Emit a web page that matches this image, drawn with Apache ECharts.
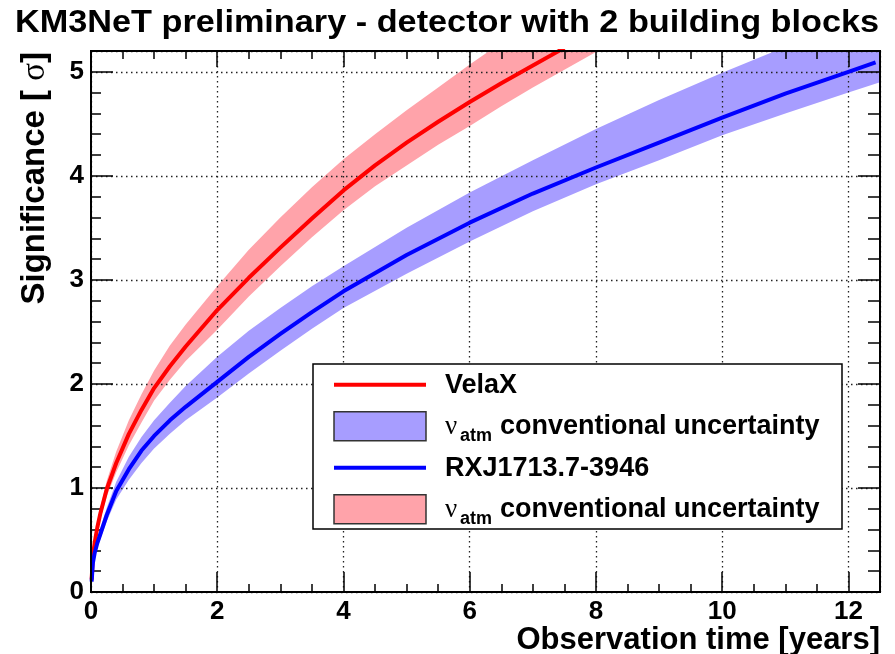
<!DOCTYPE html>
<html>
<head>
<meta charset="utf-8">
<script src="https://cdn.jsdelivr.net/npm/echarts@6/dist/echarts.min.js"></script>
<style>
  html, body { margin: 0; padding: 0; background: #fff; }
  #chart { width: 895px; height: 654px; }
</style>
</head>
<body>
<div id="chart"></div>
<script>
// Observation time (years) and expected significance (sigma) for the two sources.
const velaTime  = [0.01, 0.03, 0.06, 0.1, 0.15, 0.25, 0.4, 0.6, 0.8, 1, 1.25, 1.5, 2, 2.5, 3, 3.5, 4, 4.5, 5, 5.5, 6, 6.5, 7, 7.5];
const velaSigma = [0.12, 0.34, 0.48, 0.62, 0.76, 0.99, 1.24, 1.52, 1.75, 1.96, 2.17, 2.36, 2.71, 3.02, 3.31, 3.59, 3.86, 4.10, 4.32, 4.52, 4.71, 4.89, 5.06, 5.23];

// Atmospheric-neutrino uncertainty band around VelaX.
const velaBandTime = [0.01, 0.03, 0.06, 0.1, 0.15, 0.25, 0.4, 0.6, 0.8, 1, 1.25, 1.5, 2, 2.5, 3, 3.5, 4, 4.5, 5, 5.5, 6, 6.5, 7, 7.5, 8, 8.5];
const velaBandLow  = [0.11, 0.32, 0.45, 0.57, 0.70, 0.92, 1.15, 1.41, 1.63, 1.84, 2.04, 2.22, 2.52, 2.84, 3.13, 3.41, 3.67, 3.90, 4.10, 4.30, 4.48, 4.67, 4.85, 5.02, 5.19, 5.35];
const velaBandHigh = [0.13, 0.38, 0.53, 0.67, 0.82, 1.07, 1.35, 1.65, 1.90, 2.13, 2.37, 2.57, 2.94, 3.29, 3.60, 3.89, 4.16, 4.40, 4.63, 4.85, 5.07, 5.28, 5.48, 5.68, 5.87, 6.05];

const rxjTime  = [0.01, 0.03, 0.06, 0.1, 0.15, 0.25, 0.4, 0.6, 0.8, 1, 1.25, 1.5, 2, 2.5, 3, 3.5, 4, 5, 6, 7, 8, 9, 10, 11, 12, 12.43];
const rxjSigma = [0.10, 0.28, 0.38, 0.47, 0.56, 0.74, 0.97, 1.18, 1.36, 1.50, 1.65, 1.78, 2.02, 2.26, 2.48, 2.69, 2.89, 3.24, 3.55, 3.83, 4.08, 4.32, 4.56, 4.79, 5.00, 5.09];

// Atmospheric-neutrino uncertainty band around RXJ1713.7-3946.
const rxjBandTime = [0.01, 0.03, 0.06, 0.1, 0.15, 0.25, 0.4, 0.6, 0.8, 1, 1.25, 1.5, 2, 2.5, 3, 3.5, 4, 5, 6, 7, 8, 9, 10, 11, 12, 12.5];
const rxjBandLow  = [0.09, 0.26, 0.35, 0.43, 0.51, 0.68, 0.89, 1.08, 1.24, 1.38, 1.52, 1.65, 1.87, 2.10, 2.32, 2.53, 2.73, 3.06, 3.37, 3.66, 3.92, 4.15, 4.39, 4.60, 4.80, 4.90];
const rxjBandHigh = [0.11, 0.31, 0.42, 0.52, 0.62, 0.81, 1.06, 1.30, 1.49, 1.65, 1.82, 1.98, 2.26, 2.51, 2.73, 2.94, 3.13, 3.50, 3.84, 4.15, 4.45, 4.73, 4.99, 5.24, 5.47, 5.58];

// Tick labels.
const xTickLabels = [0, 2, 4, 6, 8, 10, 12];
const yTickLabels = [0, 1, 2, 3, 4, 5];

const FONT = 'Liberation Sans, Arial, Helvetica, sans-serif';
const SERIF = 'Liberation Serif, DejaVu Serif, serif';
const RED = '#ff0000', BLUE = '#0000ff';
const RED_BAND = '#ffa3aa', BLUE_BAND = '#a79dff';

const X_MIN = 0, X_MAX = 12.5, Y_MIN = 0, Y_MAX = 5.2;

const tickStyle = { color: '#000', width: 1.5 };
const gridLine = { show: true, lineStyle: { color: '#222', width: 1.3, type: [1.5, 3.5] } };

function xAxisDef(position, interval, tickLen, withLabels) {
  return {
    type: 'value', position, min: X_MIN, max: X_MAX, interval, z: 3,
    axisLine: { show: false, onZero: false },
    axisTick: { show: true, inside: true, length: tickLen, lineStyle: tickStyle },
    axisLabel: withLabels ? {
      show: true, margin: 7, color: '#000', fontSize: 26, fontWeight: 'bold', fontFamily: FONT,
      formatter: v => (xTickLabels.includes(v) ? String(v) : '')
    } : { show: false },
    splitLine: withLabels ? gridLine : { show: false }
  };
}

function yAxisDef(position, interval, tickLen, withLabels) {
  return {
    type: 'value', position, min: Y_MIN, max: Y_MAX, interval, z: 3,
    axisLine: { show: false, onZero: false },
    axisTick: { show: true, inside: true, length: tickLen, lineStyle: tickStyle },
    axisLabel: withLabels ? {
      show: true, margin: 7, color: '#000', fontSize: 26, fontWeight: 'bold', fontFamily: FONT,
      formatter: v => (yTickLabels.includes(v) ? String(v) : '')
    } : { show: false },
    splitLine: withLabels ? gridLine : { show: false }
  };
}

function bandSeries(name, t, lo, hi, color) {
  return {
    type: 'custom', name, xAxisIndex: 0, yAxisIndex: 0, z: 1, silent: true,
    data: [[t[0], lo[0]]],
    renderItem(params, api) {
      const pts = [];
      for (let i = 0; i < t.length; i++) pts.push(api.coord([t[i], hi[i]]));
      for (let i = t.length - 1; i >= 0; i--) pts.push(api.coord([t[i], lo[i]]));
      const cs = params.coordSys;
      return {
        type: 'polygon',
        shape: { points: pts },
        style: { fill: color },
        clipPath: { type: 'rect', shape: { x: cs.x, y: cs.y, width: cs.width, height: cs.height } }
      };
    }
  };
}

function lineSeries(name, t, s, color, z) {
  return {
    type: 'line', name, xAxisIndex: 0, yAxisIndex: 0, z,
    data: t.map((v, i) => [v, s[i]]),
    showSymbol: false, smooth: false, clip: true, silent: true,
    lineStyle: { color, width: 4, join: 'round' }
  };
}

// Legend rows: line, band, line, band.
const LEG = { x: 313, y: 364, w: 529, h: 165, sx: 334, sw: 92, tx: 445, rows: [384.7, 426.2, 467.7, 509.2] };
const legendItems = [
  { kind: 'line', color: RED, label: 'VelaX' },
  { kind: 'band', color: BLUE_BAND, label: null },
  { kind: 'line', color: BLUE, label: 'RXJ1713.7-3946' },
  { kind: 'band', color: RED_BAND, label: null }
];

const graphics = [
  { type: 'rect', z: 20, shape: { x: LEG.x, y: LEG.y, width: LEG.w, height: LEG.h },
    style: { fill: '#fff', stroke: '#000', lineWidth: 1.5 } }
];
legendItems.forEach((it, i) => {
  const cy = LEG.rows[i];
  if (it.kind === 'line') {
    graphics.push({ type: 'line', z: 21, shape: { x1: LEG.sx, y1: cy, x2: LEG.sx + LEG.sw, y2: cy },
      style: { stroke: it.color, lineWidth: 4 } });
    graphics.push({ type: 'text', z: 21, x: LEG.tx, y: cy + 1,
      style: { text: it.label, fill: '#000', font: 'bold 27px ' + FONT, align: 'left', verticalAlign: 'middle' } });
  } else {
    graphics.push({ type: 'rect', z: 21, shape: { x: LEG.sx, y: cy - 14.5, width: LEG.sw, height: 29 },
      style: { fill: it.color, stroke: '#333', lineWidth: 1.5 } });
    graphics.push({ type: 'text', z: 21, x: LEG.tx, y: cy + 1,
      style: { text: 'ν', fill: '#000', font: '27px ' + SERIF, align: 'left', verticalAlign: 'middle' } });
    graphics.push({ type: 'text', z: 21, x: LEG.tx + 15, y: cy + 10,
      style: { text: 'atm', fill: '#000', font: 'bold 18px ' + FONT, align: 'left', verticalAlign: 'middle' } });
    graphics.push({ type: 'text', z: 21, x: LEG.tx + 55, y: cy,
      style: { text: 'conventional uncertainty', fill: '#000', font: 'bold 27px ' + FONT, align: 'left', verticalAlign: 'middle' } });
  }
});

// Header line, stretched horizontally to span the frame width.
graphics.push({
  type: 'text', z: 21, x: 15, y: 23, scaleX: 1.105,
  style: { text: 'KM3NeT preliminary - detector with 2 building blocks', fill: '#000',
           font: 'bold 31px ' + FONT, align: 'left', verticalAlign: 'middle' }
});

// Axis titles.
graphics.push({
  type: 'text', z: 21, x: 35, y: 52, rotation: Math.PI / 2,
  style: {
    text: '{a|Significance [ }{s|σ}{a|]}',
    rich: {
      a: { font: 'bold 33px ' + FONT, fill: '#000' },
      s: { font: '33px ' + SERIF, fill: '#000' }
    },
    align: 'right', verticalAlign: 'middle'
  }
});
graphics.push({
  type: 'text', z: 21, x: 880, y: 640,
  style: { text: 'Observation time [years]', fill: '#000', font: 'bold 31px ' + FONT, align: 'right', verticalAlign: 'middle' }
});

const chart = echarts.init(document.getElementById('chart'), null, { renderer: 'canvas' });
chart.setOption({
  animation: false,
  backgroundColor: '#fff',
  grid: { left: 91, right: 15, top: 51, bottom: 62, show: true, z: 10,
          borderColor: '#000', borderWidth: 2, backgroundColor: 'transparent' },
  xAxis: [
    xAxisDef('bottom', 2, 20, true),
    xAxisDef('bottom', 0.5, 8, false),
    xAxisDef('top', 2, 16, false),
    xAxisDef('top', 0.5, 8, false)
  ],
  yAxis: [
    yAxisDef('left', 1, 22, true),
    yAxisDef('left', 0.2, 10, false),
    yAxisDef('right', 1, 22, false),
    yAxisDef('right', 0.2, 12, false)
  ],
  series: [
    bandSeries('RXJ band', rxjBandTime, rxjBandLow, rxjBandHigh, BLUE_BAND),
    bandSeries('VelaX band', velaBandTime, velaBandLow, velaBandHigh, RED_BAND),
    lineSeries('VelaX', velaTime, velaSigma, RED, 5),
    lineSeries('RXJ1713.7-3946', rxjTime, rxjSigma, BLUE, 6)
  ],
  graphic: graphics
});
</script>
</body>
</html>
